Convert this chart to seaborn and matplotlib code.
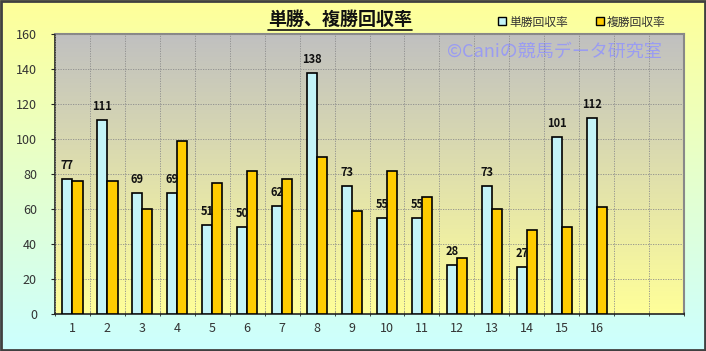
"""単勝・複勝回収率 bar chart (seaborn)."""
import matplotlib
matplotlib.use("Agg")
import numpy as np
import pandas as pd
import matplotlib.pyplot as plt
from matplotlib.colors import LinearSegmentedColormap
from matplotlib.lines import Line2D
from matplotlib.patches import Rectangle
import seaborn as sns

# ---- data ----
races = [str(i) for i in range(1, 17)]
win_return = [77, 111, 69, 69, 51, 50, 62, 138, 73, 55, 55, 28, 73, 27, 101, 112]
place_return = [76, 76, 60, 99, 75, 82, 77, 90, 59, 82, 67, 32, 60, 48, 50, 61]
series = ["単勝回収率", "複勝回収率"]
colors = ["#c4f4f8", "#ffcc00"]
title = "単勝、複勝回収率"
watermark = "©Caniの競馬データ研究室"

df = pd.DataFrame({
    "race": races * 2,
    "value": win_return + place_return,
    "type": [series[0]] * len(races) + [series[1]] * len(races),
})

sns.set_style("white")
plt.rcParams["font.family"] = ["Noto Sans CJK JP", "DejaVu Sans"]

fig = plt.figure(figsize=(7.06, 3.51), dpi=100)

# figure background gradient (yellow -> light cyan)
bg = fig.add_axes([0, 0, 1, 1], zorder=-10)
bg_cmap = LinearSegmentedColormap.from_list("bg", ["#ccffff", "#ffff99"])
bg.imshow(np.linspace(0, 1, 256).reshape(-1, 1), cmap=bg_cmap, aspect="auto",
          origin="lower", extent=[0, 1, 0, 1])
bg.set_axis_off()

ax = fig.add_axes([55 / 706, 1 - 314 / 351, 629 / 706, 280 / 351])
sns.barplot(data=df, x="race", y="value", hue="type", order=races,
            palette=colors, saturation=1, width=0.58, edgecolor="black",
            linewidth=1.2, legend=False, ax=ax, zorder=3)

# plot area gradient (gray -> pale yellow)
pa_cmap = LinearSegmentedColormap.from_list("pa", ["#ffff99", "#c0c0c0"])
ax.imshow(np.linspace(0, 1, 256).reshape(-1, 1), cmap=pa_cmap, aspect="auto",
          origin="lower", extent=[0, 1, 0, 1], transform=ax.transAxes, zorder=0)

ax.bar_label(ax.containers[0], fmt="%d", padding=5, fontsize=8,
             fontweight="bold", color="#111111")

ax.set_xlim(-0.5, 17.5)
ax.set_ylim(0, 160)
ax.set_yticks(range(0, 161, 20))
ax.set_xticks(np.arange(-0.5, 18, 1), minor=True)
ax.grid(axis="y", which="major", ls=(0, (1.5, 1.5)), color="#8c8c8c", lw=0.6, zorder=1)
ax.grid(axis="x", which="minor", ls=(0, (1.5, 1.5)), color="#8c8c8c", lw=0.6, zorder=1)
ax.set_axisbelow(False)
ax.set_xlabel("")
ax.set_ylabel("")
ax.tick_params(axis="y", labelsize=9, labelcolor="#333333", pad=10, length=3,
               direction="out", left=True)
ax.tick_params(axis="x", which="major", labelsize=9, labelcolor="#333333",
               pad=6, length=0)
ax.tick_params(axis="x", which="minor", length=3, direction="inout", bottom=True)
for side in ["left", "bottom"]:
    ax.spines[side].set_color("#222222")
    ax.spines[side].set_linewidth(1.2)
for side in ["top", "right"]:
    ax.spines[side].set_color("#888888")
    ax.spines[side].set_linewidth(1.5)

ax.text(447 / 706, 1 - 52 / 351, watermark, transform=fig.transFigure,
        fontsize=13, color="#9a9cf2", ha="left", va="center", zorder=2)

# title with underline
t = fig.text(340 / 706, 1 - 19 / 351, title, fontsize=13, fontweight="bold",
             ha="center", va="center", color="#111111")
fig.canvas.draw()
bb = t.get_window_extent().transformed(fig.transFigure.inverted())
fig.add_artist(Line2D([bb.x0, bb.x1], [bb.y0 - 0.004, bb.y0 - 0.004],
                      transform=fig.transFigure, color="#111111", lw=1.2))

handles = [Line2D([], [], marker="s", ls="", markersize=6, markerfacecolor=c,
                  markeredgecolor="black", markeredgewidth=1.0) for c in colors]
fig.legend(handles, series, loc="center", bbox_to_anchor=(581 / 706, 1 - 22 / 351),
           ncol=2, frameon=False, fontsize=8.5, handletextpad=0.1,
           columnspacing=2.2, handlelength=1.0, labelcolor="#333333")

# outer frame
fig.add_artist(Rectangle((0.001, 0.002), 0.997, 0.995, transform=fig.transFigure,
                         fill=False, edgecolor="#404040", lw=2))

fig.savefig("out.png", dpi=100)
